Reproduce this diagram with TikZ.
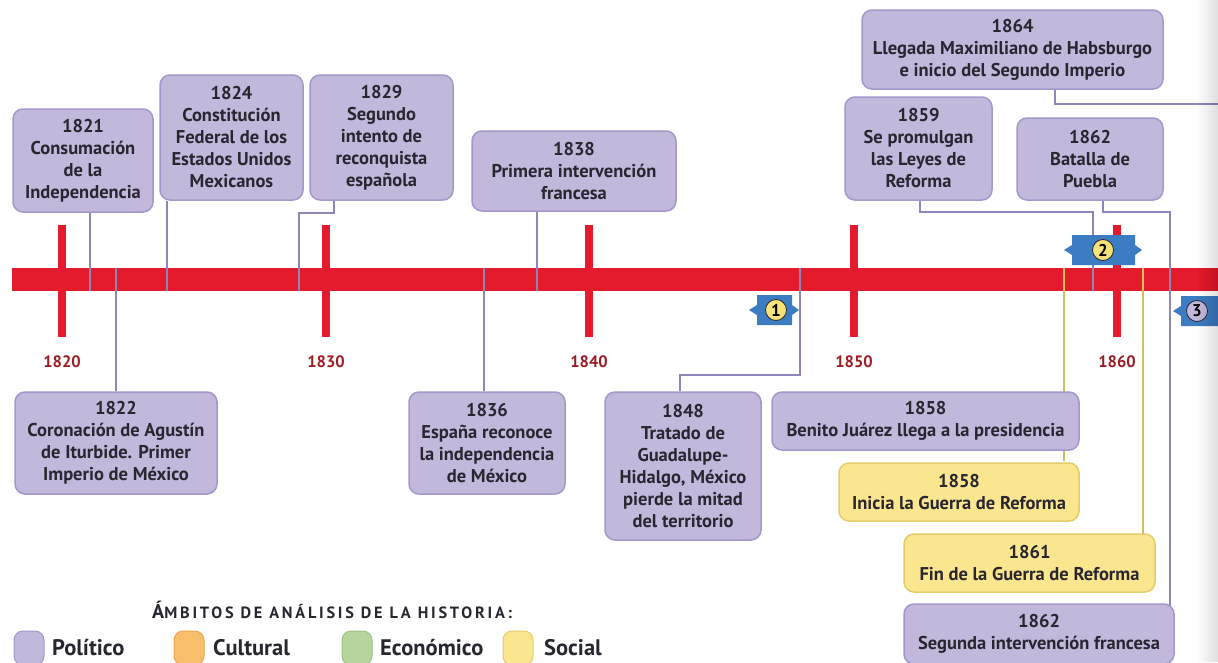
\documentclass[tikz,border=0pt]{standalone}
\usepackage{fontspec}
\setmainfont{PT Sans}
\newfontfamily\titlefont[LetterSpace=17]{PT Sans}
\definecolor{polfill}{HTML}{C2B8DC}
\definecolor{polline}{HTML}{A398C9}
\definecolor{connc}{HTML}{8D87B7}
\definecolor{socfill}{HTML}{FBE690}
\definecolor{socline}{HTML}{E3CC6A}
\definecolor{socconn}{HTML}{D0BF5E}
\definecolor{tlred}{HTML}{E31B2C}
\definecolor{yearred}{HTML}{9C1C24}
\definecolor{tagblue}{HTML}{3C7CC2}
\definecolor{txt}{HTML}{2A2630}
\definecolor{culfill}{HTML}{F8BE6C}
\definecolor{culline}{HTML}{EAA950}
\definecolor{ecofill}{HTML}{B5D59C}
\definecolor{ecoline}{HTML}{9CC483}
\definecolor{markyel}{HTML}{F7E27A}
\newcommand\evfont{\bfseries\fontsize{18.5}{22}\selectfont}
\newcommand\yrfont{\bfseries\fontsize{16.5}{16}\selectfont}
\newcommand\bluetag[3]{%
  \fill[tagblue] ({#1-8},#3) -- (#1,{#3-5}) -- (#1,{#3-15}) -- (#2,{#3-15}) -- (#2,{#3-5})
    -- ({#2+7},#3) -- (#2,{#3+5}) -- (#2,{#3+15}) -- (#1,{#3+15}) -- (#1,{#3+5}) -- cycle;}
\begin{document}
\begin{tikzpicture}[x=1pt,y=-1pt,
  evbox/.style={rounded corners=10pt, fill=polfill, draw=polline, line width=1.5pt,
    align=center, inner sep=0pt, text=txt, font=\evfont},
  socbox/.style={evbox, fill=socfill, draw=socline},
  link/.style={draw=connc, line width=2.6pt},
  slink/.style={draw=socconn, line width=2.8pt},
  tickmark/.style={draw=tlred, line width=8.5pt},
  yearlab/.style={text=yearred, font=\yrfont},
  tagnum/.style={circle, draw=txt, line width=0.8pt, minimum size=21pt, inner sep=0pt,
    text=black, font=\bfseries\fontsize{17}{17}\selectfont},
  swatch/.style={rounded corners=9pt, minimum width=30pt, minimum height=34pt, inner sep=0pt, line width=1pt},
  leglab/.style={anchor=base west, text=txt, font=\bfseries\fontsize{22.5}{22}\selectfont, inner sep=0pt}]
\useasboundingbox (0,0) rectangle (1218,662);
\fill[white] (0,0) rectangle (1218,662);

% timeline bar and ticks
\fill[tlred] (12,268) rectangle (1218,291);
\foreach \x/\yr in {62/1820,326/1830,589/1840,854/1850,1117/1860}{
  \draw[tickmark] (\x,225) -- (\x,337);
  \node[yearlab] (y\yr) at (\x,362) {\yr};
}

% named points of the connectors
\coordinate (a1821) at (90,291);
\coordinate (a1822) at (116,268);
\coordinate (a1824) at (167,291);
\coordinate (a1829) at (299,291);
\coordinate (e1829) at (334,213);
\coordinate (a1836) at (484,268);
\coordinate (a1838) at (537,291);
\coordinate (a1848) at (800,268);
\coordinate (e1848) at (680,375);
\coordinate (a1859) at (1093,291);
\coordinate (e1859) at (920,212);
\coordinate (e1862) at (1103,212);
\coordinate (k1862) at (1170,212);
\coordinate (e1864) at (1055,104);
\coordinate (out1864) at (1225,104);
\coordinate (a1858) at (1064,268);
\coordinate (a1861) at (1143,268);

% boxes
\node[evbox, minimum width=140pt, minimum height=103pt] (b1821) at (83,160.5) {1821\\Consumación\\de la\\Independencia};
\node[evbox, minimum width=143pt, minimum height=125pt] (b1824) at (231.5,137.5) {1824\\Constitución\\Federal de los\\Estados Unidos\\Mexicanos};
\node[evbox, minimum width=143pt, minimum height=125pt] (b1829) at (381.5,137.5) {1829\\Segundo\\intento de\\reconquista\\española};
\node[evbox, minimum width=204pt, minimum height=80pt] (b1838) at (574,171) {1838\\Primera intervención\\francesa};
\node[evbox, minimum width=202pt, minimum height=102pt] (b1822) at (116,443) {1822\\Coronación de Agustín\\de Iturbide. Primer\\Imperio de México};
\node[evbox, minimum width=156pt, minimum height=102pt] (b1836) at (487,443) {1836\\España reconoce\\la independencia\\de México};
\node[evbox, minimum width=156pt, minimum height=148pt] (b1848) at (683,466) {1848\\Tratado de\\Guadalupe-\\Hidalgo, México\\pierde la mitad\\del territorio};
\node[evbox, minimum width=146pt, minimum height=82pt] (b1862b) at (1090,159) {1862\\Batalla de\\Puebla};
\node[evbox, minimum width=147pt, minimum height=103pt] (b1859) at (918.5,148.5) {1859\\Se promulgan\\las Leyes de\\Reforma};
\node[evbox, minimum width=301pt, minimum height=79pt] (b1864) at (1012.5,49.5) {1864\\Llegada Maximiliano de Habsburgo\\e inicio del Segundo Imperio};

% connectors
\draw[link] (b1821.south -| a1821) -- (a1821);
\draw[link] (a1822) -- (b1822.north -| a1822);
\draw[link] (b1824.south -| a1824) -- (a1824);
\draw[link] (b1829.south -| e1829) -- (e1829) -| (a1829);
\draw[link] (a1836) -- (b1836.north -| a1836);
\draw[link] (b1838.south -| a1838) -- (a1838);
\draw[link] (a1848) |- (e1848) -- (b1848.north -| e1848);
\draw[link] (b1859.south -| e1859) -- (e1859) -| (a1859);
\draw[link] (b1864.south -| e1864) -- (e1864) -- (out1864);
\draw[slink] (a1858) -- ([yshift=2pt]a1858 |- 0,463) coordinate (f1858);
\draw[slink] (a1861) -- (a1861 |- 0,534) coordinate (f1861);
\draw[link] (b1862b.south -| e1862) -- (e1862) -- (k1862) -- (k1862 |- 0,606) coordinate (f1862);

% lower right boxes (over the connectors that pass behind them)
\node[evbox, minimum width=307pt, minimum height=58pt] (b1858a) at (925.5,421) {1858\\Benito Juárez llega a la presidencia};
\node[socbox, minimum width=240pt, minimum height=58pt] (b1858b) at (959,492) {1858\\Inicia la Guerra de Reforma};
\node[socbox, minimum width=251pt, minimum height=58pt] (b1861) at (1029.5,563) {1861\\Fin de la Guerra de Reforma};
\node[evbox, minimum width=270pt, minimum height=60pt] (b1862s) at (1039,634) {1862\\Segunda intervención francesa};

% markers
\bluetag{757}{792}{310}
\node[tagnum, fill=markyel] (m1) at (776,310) {1};
\bluetag{1072}{1135}{250}
\node[tagnum, fill=markyel] (m2) at (1103,250) {2};
\bluetag{1181}{1230}{311}
\node[tagnum, fill=polfill] (m3) at (1197,311) {3};

% legend
\node[anchor=west, text=txt, inner sep=0pt] (legtitle) at (152,610)
  {\titlefont\bfseries{\fontsize{20}{18}\selectfont Á}{\fontsize{16.3}{14}\selectfont MBITOS DE ANÁLISIS DE LA HISTORIA:}};
\node[swatch, fill=polfill, draw=polline] (sw1) at (29,648) {};
\node[leglab] (l1) at (52,655) {Político};
\node[swatch, fill=culfill, draw=culline] (sw2) at (189,648) {};
\node[leglab] (l2) at (213,655) {Cultural};
\node[swatch, fill=ecofill, draw=ecoline] (sw3) at (357,648) {};
\node[leglab] (l3) at (380,655) {Económico};
\node[swatch, fill=socfill, draw=socline] (sw4) at (518,648) {};
\node[leglab] (l4) at (544,655) {Social};

% page shadow on the right edge
\foreach \i in {0,...,9}{\fill[black, opacity=0.012] ({1198+2*\i},0) rectangle (1218,662);}
\end{tikzpicture}
\end{document}
